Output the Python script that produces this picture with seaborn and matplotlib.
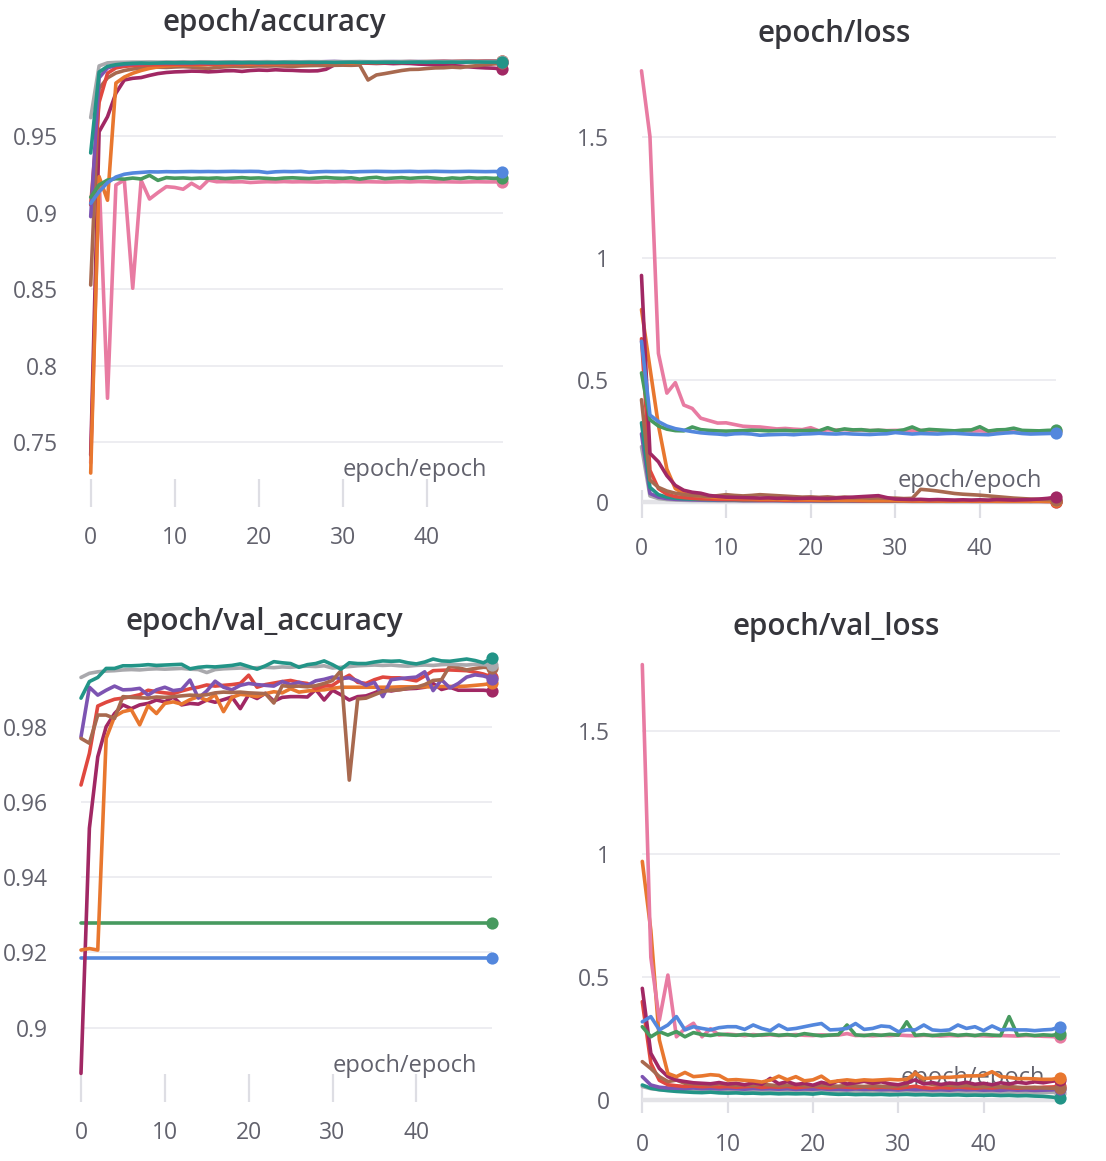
import matplotlib
matplotlib.use("Agg")
import matplotlib.pyplot as plt
import pandas as pd
import seaborn as sns

epochs = list(range(50))
x_ticks = [0, 10, 20, 30, 40]

# ---------------- epoch/accuracy ----------------
acc_gray = [0.9620, 0.9958, 0.9978, 0.9981, 0.9982, 0.9983, 0.9983, 0.9984, 0.9983, 0.9984,
            0.9984, 0.9985, 0.9984, 0.9985, 0.9985, 0.9984, 0.9985, 0.9985, 0.9984, 0.9985,
            0.9985, 0.9986, 0.9985, 0.9985, 0.9986, 0.9985, 0.9986, 0.9986, 0.9985, 0.9986,
            0.9986, 0.9986, 0.9987, 0.9986, 0.9986, 0.9987, 0.9986, 0.9987, 0.9987, 0.9986,
            0.9987, 0.9987, 0.9986, 0.9987, 0.9987, 0.9988, 0.9987, 0.9987, 0.9988, 0.9987]
acc_teal = [0.9389, 0.9918, 0.9955, 0.9966, 0.9972, 0.9975, 0.9977, 0.9975, 0.9977, 0.9979,
            0.9978, 0.9979, 0.9978, 0.9980, 0.9979, 0.9978, 0.9979, 0.9980, 0.9979, 0.9980,
            0.9979, 0.9980, 0.9979, 0.9981, 0.9980, 0.9980, 0.9981, 0.9980, 0.9981, 0.9980,
            0.9981, 0.9982, 0.9981, 0.9982, 0.9981, 0.9982, 0.9982, 0.9981, 0.9982, 0.9983,
            0.9982, 0.9983, 0.9982, 0.9983, 0.9982, 0.9983, 0.9984, 0.9983, 0.9983, 0.9982]
acc_purple = [0.8973, 0.9880, 0.9945, 0.9962, 0.9968, 0.9972, 0.9974, 0.9975, 0.9976, 0.9977,
              0.9978, 0.9977, 0.9978, 0.9979, 0.9978, 0.9979, 0.9980, 0.9979, 0.9980, 0.9981,
              0.9980, 0.9981, 0.9982, 0.9981, 0.9982, 0.9983, 0.9982, 0.9984, 0.9986, 0.9987,
              0.9985, 0.9984, 0.9985, 0.9984, 0.9985, 0.9985, 0.9986, 0.9985, 0.9986, 0.9986,
              0.9985, 0.9986, 0.9987, 0.9986, 0.9986, 0.9987, 0.9986, 0.9987, 0.9987, 0.9986]
acc_red = [0.9050, 0.9720, 0.9910, 0.9945, 0.9955, 0.9960, 0.9963, 0.9965, 0.9966, 0.9967,
           0.9968, 0.9967, 0.9969, 0.9970, 0.9969, 0.9970, 0.9971, 0.9970, 0.9972, 0.9973,
           0.9972, 0.9974, 0.9973, 0.9975, 0.9976, 0.9975, 0.9977, 0.9976, 0.9978, 0.9979,
           0.9980, 0.9981, 0.9982, 0.9981, 0.9983, 0.9984, 0.9983, 0.9985, 0.9986, 0.9985,
           0.9986, 0.9987, 0.9988, 0.9987, 0.9988, 0.9989, 0.9988, 0.9989, 0.9990, 0.9989]
acc_orange = [0.7297, 0.9234, 0.9080, 0.9846, 0.9885, 0.9910, 0.9928, 0.9942, 0.9952, 0.9958,
              0.9962, 0.9964, 0.9966, 0.9965, 0.9967, 0.9968, 0.9967, 0.9969, 0.9970, 0.9969,
              0.9971, 0.9972, 0.9971, 0.9973, 0.9974, 0.9973, 0.9975, 0.9976, 0.9975, 0.9977,
              0.9978, 0.9977, 0.9979, 0.9980, 0.9979, 0.9981, 0.9982, 0.9981, 0.9983, 0.9984,
              0.9983, 0.9985, 0.9986, 0.9985, 0.9987, 0.9988, 0.9987, 0.9989, 0.9990, 0.9990]
acc_brown = [0.8526, 0.9810, 0.9880, 0.9912, 0.9928, 0.9938, 0.9944, 0.9948, 0.9950, 0.9948,
             0.9951, 0.9953, 0.9950, 0.9945, 0.9942, 0.9948, 0.9952, 0.9955, 0.9953, 0.9956,
             0.9958, 0.9957, 0.9959, 0.9957, 0.9955, 0.9958, 0.9960, 0.9961, 0.9960, 0.9962,
             0.9963, 0.9962, 0.9964, 0.9866, 0.9899, 0.9908, 0.9918, 0.9928, 0.9935, 0.9936,
             0.9941, 0.9945, 0.9946, 0.9950, 0.9947, 0.9955, 0.9960, 0.9966, 0.9971, 0.9975]
acc_crimson = [0.7415, 0.9528, 0.9626, 0.9780, 0.9866, 0.9877, 0.9882, 0.9896, 0.9908, 0.9915,
               0.9919, 0.9921, 0.9924, 0.9923, 0.9919, 0.9922, 0.9926, 0.9927, 0.9922, 0.9928,
               0.9931, 0.9929, 0.9933, 0.9930, 0.9929, 0.9926, 0.9925, 0.9926, 0.9936, 0.9965,
               0.9972, 0.9975, 0.9977, 0.9976, 0.9974, 0.9976, 0.9973, 0.9975, 0.9974, 0.9970,
               0.9968, 0.9965, 0.9962, 0.9960, 0.9957, 0.9952, 0.9948, 0.9945, 0.9943, 0.9938]
acc_pink = [0.7363, 0.9234, 0.7786, 0.9180, 0.9212, 0.8505, 0.9210, 0.9088, 0.9130, 0.9169,
            0.9164, 0.9152, 0.9191, 0.9158, 0.9212, 0.9201, 0.9202, 0.9200, 0.9201, 0.9196,
            0.9199, 0.9201, 0.9200, 0.9202, 0.9200, 0.9201, 0.9200, 0.9199, 0.9201, 0.9200,
            0.9202, 0.9201, 0.9200, 0.9201, 0.9200, 0.9199, 0.9200, 0.9201, 0.9200, 0.9202,
            0.9201, 0.9200, 0.9201, 0.9200, 0.9199, 0.9200, 0.9201, 0.9200, 0.9200, 0.9200]
acc_blue = [0.9060, 0.9136, 0.9195, 0.9232, 0.9250, 0.9258, 0.9262, 0.9266, 0.9265, 0.9267,
            0.9266, 0.9267, 0.9268, 0.9267, 0.9268, 0.9267, 0.9268, 0.9269, 0.9268, 0.9269,
            0.9268, 0.9261, 0.9266, 0.9268, 0.9267, 0.9269, 0.9263, 0.9266, 0.9268, 0.9267,
            0.9268, 0.9265, 0.9267, 0.9268, 0.9269, 0.9268, 0.9267, 0.9268, 0.9269, 0.9267,
            0.9268, 0.9269, 0.9268, 0.9267, 0.9268, 0.9269, 0.9268, 0.9267, 0.9268, 0.9267]
acc_green = [0.9100, 0.9180, 0.9212, 0.9221, 0.9218, 0.9225, 0.9219, 0.9243, 0.9210, 0.9228,
             0.9224, 0.9226, 0.9222, 0.9225, 0.9223, 0.9226, 0.9222, 0.9225, 0.9228, 0.9224,
             0.9226, 0.9223, 0.9220, 0.9225, 0.9227, 0.9224, 0.9222, 0.9226, 0.9229, 0.9225,
             0.9223, 0.9227, 0.9218, 0.9226, 0.9230, 0.9221, 0.9225, 0.9228, 0.9223, 0.9227,
             0.9229, 0.9224, 0.9219, 0.9226, 0.9222, 0.9228, 0.9224, 0.9226, 0.9223, 0.9225]

# ---------------- epoch/loss ----------------
loss_pink = [1.770, 1.500, 0.610, 0.447, 0.490, 0.398, 0.384, 0.344, 0.334, 0.324,
             0.325, 0.318, 0.311, 0.309, 0.308, 0.304, 0.300, 0.302, 0.299, 0.297,
             0.305, 0.292, 0.296, 0.295, 0.297, 0.294, 0.295, 0.293, 0.294, 0.293,
             0.294, 0.293, 0.292, 0.294, 0.292, 0.293, 0.291, 0.292, 0.293, 0.291,
             0.292, 0.290, 0.291, 0.290, 0.292, 0.290, 0.291, 0.290, 0.289, 0.290]
loss_blue = [0.660, 0.357, 0.330, 0.312, 0.301, 0.295, 0.289, 0.284, 0.281, 0.279,
             0.276, 0.280, 0.281, 0.279, 0.274, 0.276, 0.277, 0.278, 0.276, 0.279,
             0.280, 0.282, 0.280, 0.279, 0.281, 0.279, 0.278, 0.277, 0.279, 0.280,
             0.285, 0.282, 0.279, 0.281, 0.280, 0.279, 0.281, 0.282, 0.280, 0.278,
             0.277, 0.276, 0.280, 0.283, 0.285, 0.281, 0.279, 0.280, 0.281, 0.282]
loss_green = [0.530, 0.338, 0.312, 0.299, 0.293, 0.292, 0.308, 0.297, 0.294, 0.292,
              0.291, 0.292, 0.293, 0.295, 0.294, 0.292, 0.293, 0.294, 0.292, 0.293,
              0.294, 0.292, 0.305, 0.293, 0.300, 0.296, 0.297, 0.293, 0.295, 0.292,
              0.291, 0.296, 0.308, 0.293, 0.298, 0.296, 0.294, 0.292, 0.295, 0.296,
              0.309, 0.291, 0.296, 0.297, 0.303, 0.294, 0.293, 0.292, 0.294, 0.295]
loss_crimson = [0.930, 0.200, 0.165, 0.108, 0.068, 0.048, 0.040, 0.036, 0.027, 0.023,
                0.020, 0.019, 0.018, 0.017, 0.016, 0.017, 0.015, 0.016, 0.014, 0.015,
                0.016, 0.015, 0.014, 0.016, 0.018, 0.020, 0.022, 0.024, 0.026, 0.018,
                0.012, 0.011, 0.010, 0.011, 0.009, 0.010, 0.009, 0.008, 0.009, 0.008,
                0.009, 0.008, 0.010, 0.009, 0.008, 0.009, 0.010, 0.012, 0.015, 0.020]
loss_orange = [0.790, 0.550, 0.315, 0.135, 0.055, 0.035, 0.028, 0.024, 0.020, 0.018,
               0.016, 0.015, 0.014, 0.013, 0.012, 0.012, 0.011, 0.010, 0.010, 0.009,
               0.009, 0.008, 0.008, 0.008, 0.007, 0.007, 0.007, 0.006, 0.006, 0.006,
               0.006, 0.005, 0.005, 0.005, 0.005, 0.005, 0.004, 0.004, 0.004, 0.004,
               0.004, 0.004, 0.003, 0.003, 0.003, 0.003, 0.003, 0.003, 0.003, 0.003]
loss_red = [0.670, 0.130, 0.055, 0.032, 0.022, 0.018, 0.015, 0.013, 0.012, 0.011,
            0.010, 0.010, 0.009, 0.009, 0.008, 0.008, 0.008, 0.007, 0.007, 0.007,
            0.007, 0.006, 0.006, 0.006, 0.006, 0.006, 0.005, 0.005, 0.005, 0.005,
            0.005, 0.005, 0.004, 0.004, 0.004, 0.004, 0.004, 0.004, 0.004, 0.003,
            0.003, 0.003, 0.003, 0.003, 0.003, 0.003, 0.003, 0.003, 0.002, 0.002]
loss_brown = [0.420, 0.090, 0.060, 0.045, 0.036, 0.030, 0.027, 0.025, 0.022, 0.026,
              0.030, 0.027, 0.025, 0.027, 0.030, 0.028, 0.026, 0.024, 0.022, 0.020,
              0.021, 0.019, 0.021, 0.018, 0.020, 0.017, 0.018, 0.016, 0.017, 0.015,
              0.016, 0.014, 0.015, 0.052, 0.049, 0.045, 0.040, 0.035, 0.032, 0.030,
              0.028, 0.025, 0.022, 0.019, 0.016, 0.014, 0.012, 0.011, 0.010, 0.009]
loss_teal = [0.325, 0.060, 0.030, 0.020, 0.016, 0.013, 0.012, 0.011, 0.010, 0.010,
             0.009, 0.009, 0.008, 0.008, 0.008, 0.008, 0.007, 0.007, 0.007, 0.007,
             0.007, 0.006, 0.006, 0.006, 0.006, 0.006, 0.006, 0.005, 0.005, 0.005,
             0.005, 0.005, 0.005, 0.005, 0.005, 0.004, 0.004, 0.004, 0.004, 0.004,
             0.004, 0.004, 0.004, 0.004, 0.004, 0.004, 0.003, 0.004, 0.004, 0.004]
loss_gray = [0.227, 0.025, 0.014, 0.010, 0.008, 0.007, 0.006, 0.006, 0.005, 0.005,
             0.005, 0.005, 0.004, 0.004, 0.004, 0.004, 0.004, 0.004, 0.003, 0.003,
             0.003, 0.003, 0.003, 0.003, 0.003, 0.003, 0.003, 0.003, 0.003, 0.003,
             0.003, 0.003, 0.002, 0.002, 0.002, 0.002, 0.002, 0.002, 0.002, 0.002,
             0.002, 0.002, 0.002, 0.002, 0.002, 0.002, 0.002, 0.002, 0.002, 0.002]
loss_purple = [0.280, 0.035, 0.020, 0.014, 0.011, 0.010, 0.009, 0.008, 0.008, 0.007,
               0.007, 0.007, 0.006, 0.006, 0.006, 0.006, 0.006, 0.005, 0.005, 0.005,
               0.005, 0.005, 0.005, 0.005, 0.005, 0.004, 0.004, 0.004, 0.004, 0.004,
               0.004, 0.004, 0.004, 0.004, 0.004, 0.004, 0.003, 0.003, 0.003, 0.003,
               0.003, 0.003, 0.003, 0.003, 0.003, 0.003, 0.003, 0.003, 0.003, 0.003]

# ---------------- epoch/val_accuracy ----------------
va_teal = [0.9876, 0.9920, 0.9931, 0.9955, 0.9955, 0.9962, 0.9962, 0.9963, 0.9965, 0.9963,
           0.9964, 0.9965, 0.9966, 0.9954, 0.9958, 0.9960, 0.9959, 0.9961, 0.9963, 0.9967,
           0.9960, 0.9953, 0.9962, 0.9973, 0.9970, 0.9968, 0.9958, 0.9965, 0.9968, 0.9975,
           0.9965, 0.9953, 0.9970, 0.9968, 0.9968, 0.9972, 0.9975, 0.9974, 0.9975, 0.9970,
           0.9967, 0.9972, 0.9980, 0.9975, 0.9974, 0.9977, 0.9980, 0.9976, 0.9970, 0.9982]
va_gray = [0.9931, 0.9942, 0.9946, 0.9948, 0.9949, 0.9951, 0.9952, 0.9951, 0.9953, 0.9954,
           0.9953, 0.9954, 0.9955, 0.9953, 0.9952, 0.9944, 0.9952, 0.9954, 0.9955, 0.9956,
           0.9955, 0.9957, 0.9958, 0.9957, 0.9959, 0.9958, 0.9960, 0.9961, 0.9960, 0.9962,
           0.9956, 0.9958, 0.9960, 0.9962, 0.9963, 0.9964, 0.9963, 0.9964, 0.9962, 0.9961,
           0.9963, 0.9964, 0.9963, 0.9965, 0.9966, 0.9965, 0.9964, 0.9966, 0.9965, 0.9963]
va_purple = [0.9773, 0.9905, 0.9884, 0.9897, 0.9908, 0.9898, 0.9899, 0.9902, 0.9884, 0.9898,
             0.9905, 0.9896, 0.9899, 0.9924, 0.9876, 0.9895, 0.9921, 0.9905, 0.9898, 0.9910,
             0.9915, 0.9912, 0.9910, 0.9908, 0.9920, 0.9912, 0.9918, 0.9910, 0.9922, 0.9926,
             0.9932, 0.9928, 0.9930, 0.9922, 0.9910, 0.9918, 0.9880, 0.9925, 0.9928, 0.9930,
             0.9932, 0.9946, 0.9896, 0.9925, 0.9903, 0.9915, 0.9932, 0.9938, 0.9935, 0.9928]
va_red = [0.9645, 0.9729, 0.9855, 0.9865, 0.9873, 0.9876, 0.9880, 0.9885, 0.9897, 0.9893,
          0.9890, 0.9888, 0.9895, 0.9901, 0.9905, 0.9911, 0.9908, 0.9910, 0.9912, 0.9915,
          0.9937, 0.9905, 0.9912, 0.9916, 0.9920, 0.9923, 0.9918, 0.9915, 0.9901, 0.9908,
          0.9910, 0.9925, 0.9937, 0.9918, 0.9915, 0.9925, 0.9932, 0.9930, 0.9930, 0.9926,
          0.9922, 0.9935, 0.9949, 0.9950, 0.9951, 0.9950, 0.9949, 0.9945, 0.9940, 0.9932]
va_orange = [0.9206, 0.9210, 0.9206, 0.9769, 0.9827, 0.9840, 0.9845, 0.9805, 0.9856, 0.9835,
             0.9862, 0.9866, 0.9860, 0.9872, 0.9880, 0.9870, 0.9885, 0.9840, 0.9878, 0.9886,
             0.9884, 0.9880, 0.9888, 0.9893, 0.9890, 0.9901, 0.9892, 0.9895, 0.9897, 0.9898,
             0.9902, 0.9905, 0.9905, 0.9905, 0.9905, 0.9905, 0.9905, 0.9905, 0.9906, 0.9906,
             0.9906, 0.9906, 0.9906, 0.9907, 0.9907, 0.9907, 0.9908, 0.9910, 0.9912, 0.9915]
va_brown = [0.9769, 0.9756, 0.9831, 0.9831, 0.9822, 0.9880, 0.9878, 0.9877, 0.9876, 0.9879,
            0.9878, 0.9880, 0.9882, 0.9884, 0.9883, 0.9885, 0.9890, 0.9892, 0.9891, 0.9892,
            0.9890, 0.9889, 0.9888, 0.9863, 0.9909, 0.9907, 0.9908, 0.9906, 0.9909, 0.9915,
            0.9923, 0.9949, 0.9658, 0.9874, 0.9876, 0.9885, 0.9894, 0.9897, 0.9898, 0.9902,
            0.9905, 0.9912, 0.9923, 0.9925, 0.9962, 0.9957, 0.9951, 0.9955, 0.9958, 0.9957]
va_crimson = [0.8878, 0.9530, 0.9720, 0.9800, 0.9835, 0.9858, 0.9848, 0.9858, 0.9862, 0.9871,
              0.9866, 0.9879, 0.9858, 0.9862, 0.9860, 0.9871, 0.9865, 0.9872, 0.9879, 0.9848,
              0.9885, 0.9875, 0.9889, 0.9868, 0.9878, 0.9880, 0.9880, 0.9879, 0.9899, 0.9871,
              0.9897, 0.9885, 0.9871, 0.9880, 0.9882, 0.9890, 0.9899, 0.9895, 0.9899, 0.9901,
              0.9902, 0.9905, 0.9915, 0.9899, 0.9905, 0.9897, 0.9897, 0.9897, 0.9897, 0.9895]
va_green = [0.9277, 0.9277, 0.9277, 0.9277, 0.9277, 0.9277, 0.9277, 0.9277, 0.9277, 0.9277,
            0.9277, 0.9277, 0.9277, 0.9277, 0.9277, 0.9277, 0.9277, 0.9277, 0.9277, 0.9277,
            0.9277, 0.9277, 0.9277, 0.9277, 0.9277, 0.9277, 0.9277, 0.9277, 0.9277, 0.9277,
            0.9277, 0.9277, 0.9277, 0.9277, 0.9277, 0.9277, 0.9277, 0.9277, 0.9277, 0.9277,
            0.9277, 0.9277, 0.9277, 0.9277, 0.9277, 0.9277, 0.9277, 0.9277, 0.9277, 0.9277]
va_blue = [0.9184, 0.9184, 0.9184, 0.9184, 0.9184, 0.9184, 0.9184, 0.9184, 0.9184, 0.9184,
           0.9184, 0.9184, 0.9184, 0.9184, 0.9184, 0.9184, 0.9184, 0.9184, 0.9184, 0.9184,
           0.9184, 0.9184, 0.9184, 0.9184, 0.9184, 0.9184, 0.9184, 0.9184, 0.9184, 0.9184,
           0.9184, 0.9184, 0.9184, 0.9184, 0.9184, 0.9184, 0.9184, 0.9184, 0.9184, 0.9184,
           0.9184, 0.9184, 0.9184, 0.9184, 0.9184, 0.9184, 0.9184, 0.9184, 0.9184, 0.9184]

# ---------------- epoch/val_loss ----------------
vl_pink = [1.770, 0.580, 0.325, 0.508, 0.257, 0.290, 0.312, 0.257, 0.290, 0.264,
           0.268, 0.265, 0.262, 0.266, 0.263, 0.265, 0.262, 0.264, 0.266, 0.263,
           0.262, 0.265, 0.263, 0.264, 0.270, 0.262, 0.263, 0.261, 0.263, 0.262,
           0.264, 0.262, 0.261, 0.263, 0.262, 0.260, 0.262, 0.261, 0.263, 0.262,
           0.261, 0.260, 0.262, 0.261, 0.260, 0.262, 0.261, 0.259, 0.258, 0.255]
vl_orange = [0.970, 0.690, 0.244, 0.108, 0.095, 0.112, 0.095, 0.098, 0.103, 0.100,
             0.081, 0.083, 0.080, 0.078, 0.073, 0.081, 0.097, 0.082, 0.095, 0.078,
             0.082, 0.097, 0.073, 0.078, 0.082, 0.078, 0.082, 0.080, 0.082, 0.084,
             0.082, 0.084, 0.108, 0.087, 0.090, 0.092, 0.092, 0.095, 0.098, 0.098,
             0.100, 0.115, 0.095, 0.092, 0.087, 0.087, 0.086, 0.084, 0.084, 0.090]
vl_crimson = [0.454, 0.190, 0.128, 0.095, 0.081, 0.075, 0.070, 0.068, 0.066, 0.071,
              0.065, 0.068, 0.062, 0.070, 0.064, 0.088, 0.066, 0.075, 0.063, 0.068,
              0.060, 0.072, 0.064, 0.078, 0.065, 0.070, 0.076, 0.068, 0.074, 0.066,
              0.062, 0.070, 0.082, 0.065, 0.071, 0.063, 0.069, 0.066, 0.072, 0.064,
              0.068, 0.062, 0.070, 0.065, 0.072, 0.068, 0.074, 0.070, 0.076, 0.081]
vl_red = [0.400, 0.150, 0.080, 0.062, 0.058, 0.055, 0.057, 0.054, 0.056, 0.053,
          0.055, 0.052, 0.054, 0.056, 0.051, 0.054, 0.052, 0.055, 0.050, 0.053,
          0.056, 0.051, 0.050, 0.054, 0.052, 0.050, 0.053, 0.049, 0.052, 0.051,
          0.048, 0.052, 0.056, 0.050, 0.048, 0.051, 0.049, 0.053, 0.050, 0.048,
          0.051, 0.049, 0.052, 0.050, 0.048, 0.051, 0.049, 0.052, 0.053, 0.055]
vl_brown = [0.156, 0.128, 0.095, 0.075, 0.081, 0.068, 0.066, 0.064, 0.062, 0.066,
            0.063, 0.060, 0.062, 0.059, 0.064, 0.061, 0.058, 0.060, 0.063, 0.059,
            0.057, 0.061, 0.058, 0.056, 0.060, 0.057, 0.055, 0.058, 0.056, 0.054,
            0.057, 0.060, 0.115, 0.068, 0.064, 0.062, 0.060, 0.057, 0.059, 0.056,
            0.054, 0.057, 0.053, 0.055, 0.052, 0.050, 0.052, 0.049, 0.048, 0.047]
vl_blue = [0.318, 0.339, 0.285, 0.305, 0.339, 0.285, 0.298, 0.291, 0.285, 0.294,
           0.298, 0.298, 0.287, 0.305, 0.291, 0.282, 0.305, 0.287, 0.291, 0.298,
           0.305, 0.311, 0.285, 0.287, 0.291, 0.311, 0.287, 0.291, 0.301, 0.298,
           0.278, 0.285, 0.285, 0.305, 0.285, 0.282, 0.285, 0.305, 0.291, 0.298,
           0.282, 0.301, 0.285, 0.287, 0.285, 0.285, 0.282, 0.285, 0.287, 0.298]
vl_green = [0.298, 0.257, 0.278, 0.264, 0.278, 0.257, 0.274, 0.266, 0.262, 0.268,
            0.265, 0.263, 0.267, 0.262, 0.265, 0.268, 0.263, 0.266, 0.262, 0.270,
            0.265, 0.261, 0.264, 0.266, 0.305, 0.265, 0.262, 0.266, 0.263, 0.267,
            0.264, 0.318, 0.263, 0.266, 0.262, 0.265, 0.268, 0.263, 0.266, 0.262,
            0.267, 0.264, 0.262, 0.339, 0.263, 0.266, 0.262, 0.265, 0.263, 0.268]
vl_purple = [0.095, 0.061, 0.052, 0.049, 0.048, 0.047, 0.049, 0.046, 0.048, 0.045,
             0.047, 0.046, 0.044, 0.047, 0.045, 0.046, 0.044, 0.046, 0.043, 0.045,
             0.044, 0.046, 0.043, 0.044, 0.042, 0.045, 0.043, 0.044, 0.042, 0.043,
             0.041, 0.044, 0.042, 0.043, 0.041, 0.042, 0.040, 0.043, 0.041, 0.042,
             0.040, 0.041, 0.039, 0.042, 0.040, 0.041, 0.039, 0.040, 0.041, 0.045]
vl_teal = [0.061, 0.048, 0.042, 0.038, 0.035, 0.033, 0.031, 0.030, 0.032, 0.029,
           0.028, 0.029, 0.027, 0.028, 0.026, 0.027, 0.025, 0.026, 0.025, 0.026,
           0.024, 0.028, 0.025, 0.023, 0.024, 0.022, 0.023, 0.022, 0.023, 0.021,
           0.022, 0.023, 0.021, 0.022, 0.020, 0.021, 0.020, 0.021, 0.019, 0.020,
           0.019, 0.020, 0.018, 0.019, 0.017, 0.018, 0.016, 0.015, 0.012, 0.008]
vl_gray = [0.055, 0.046, 0.042, 0.040, 0.039, 0.038, 0.039, 0.037, 0.038, 0.036,
           0.037, 0.036, 0.035, 0.037, 0.035, 0.036, 0.034, 0.035, 0.036, 0.034,
           0.035, 0.033, 0.034, 0.035, 0.033, 0.034, 0.032, 0.033, 0.034, 0.032,
           0.033, 0.031, 0.032, 0.033, 0.031, 0.032, 0.030, 0.031, 0.032, 0.030,
           0.031, 0.030, 0.031, 0.029, 0.030, 0.031, 0.029, 0.030, 0.031, 0.030]

COLORS = {
    "gray": "#a9a9ad", "teal": "#229487", "purple": "#7d54b2", "red": "#e0483f",
    "orange": "#e8772f", "brown": "#a8694f", "crimson": "#a12864", "pink": "#e87ba2",
    "blue": "#5387dd", "green": "#479a5f",
}

W, H = 1106, 1161
TICK_C = "#62626d"
GRID_C = "#ececf0"

sns.set_theme(style="white")
plt.rcParams["font.family"] = ["Open Sans", "DejaVu Sans"]

fig = plt.figure(figsize=(W / 100, H / 100), dpi=100)

panels = [
    dict(title="epoch/accuracy",
         series={"pink": acc_pink, "crimson": acc_crimson, "brown": acc_brown, "orange": acc_orange,
                 "red": acc_red, "purple": acc_purple, "gray": acc_gray, "green": acc_green,
                 "blue": acc_blue, "teal": acc_teal},
         box=(90.7, 502.5, 55, 507), ylim=(0.70752, 1.00294),
         yticks=[0.75, 0.8, 0.85, 0.9, 0.95], ylabels=["0.75", "0.8", "0.85", "0.9", "0.95"],
         title_xy=(274, 31), xlab_xy=(487, 470), baseline=False),
    dict(title="epoch/loss",
         series={"gray": loss_gray, "purple": loss_purple, "teal": loss_teal, "red": loss_red,
                 "orange": loss_orange, "brown": loss_brown, "crimson": loss_crimson,
                 "pink": loss_pink, "green": loss_green, "blue": loss_blue},
         box=(641.5, 1056, 60, 518), ylim=(-0.0657, 1.8144),
         yticks=[0, 0.5, 1, 1.5], ylabels=["0", "0.5", "1", "1.5"],
         title_xy=(834, 42), xlab_xy=(1042, 481), baseline=True),
    dict(title="epoch/val_accuracy",
         series={"green": va_green, "blue": va_blue, "crimson": va_crimson, "orange": va_orange,
                 "red": va_red, "purple": va_purple, "brown": va_brown, "gray": va_gray,
                 "teal": va_teal},
         box=(81, 491.8, 640, 1101.7), ylim=(0.88027, 1.00306),
         yticks=[0.9, 0.92, 0.94, 0.96, 0.98], ylabels=["0.9", "0.92", "0.94", "0.96", "0.98"],
         title_xy=(264, 630), xlab_xy=(477, 1066), baseline=False),
    dict(title="epoch/val_loss",
         series={"gray": vl_gray, "teal": vl_teal, "purple": vl_purple, "red": vl_red,
                 "brown": vl_brown, "crimson": vl_crimson, "orange": vl_orange,
                 "pink": vl_pink, "green": vl_green, "blue": vl_blue},
         box=(642.3, 1060.3, 655, 1113.3), ylim=(-0.054, 1.809),
         yticks=[0, 0.5, 1, 1.5], ylabels=["0", "0.5", "1", "1.5"],
         title_xy=(836, 635), xlab_xy=(1045, 1078), baseline=True),
]

for p in panels:
    left, right, top, bottom = p["box"]
    ax = fig.add_axes([left / W, 1 - bottom / H, (right - left) / W, (bottom - top) / H])
    rows = []
    for run, vals in p["series"].items():
        assert len(vals) == len(epochs), run
        rows.extend({"epoch": e, "value": v, "run": run} for e, v in zip(epochs, vals))
    df = pd.DataFrame(rows)
    order = list(p["series"].keys())
    if p["baseline"]:
        ax.axhline(0, color="#e3e3e7", lw=3.2, zorder=1.2)
    sns.lineplot(data=df, x="epoch", y="value", hue="run", hue_order=order,
                 palette=COLORS, legend=False, ax=ax, estimator=None, errorbar=None,
                 sort=False, linewidth=2.6, marker="o", markevery=[len(epochs) - 1],
                 markersize=8.8, markeredgewidth=0, clip_on=False)
    ax.set_xlim(0, 49)
    ax.set_ylim(*p["ylim"])
    ax.set_xticks(x_ticks)
    ax.set_xticklabels([str(t) for t in x_ticks])
    ax.set_yticks(p["yticks"])
    ax.set_yticklabels(p["ylabels"])
    ax.set_xlabel("")
    ax.set_ylabel("")
    for s in ax.spines.values():
        s.set_visible(False)
    ax.grid(False)
    ax.yaxis.grid(True, color=GRID_C, lw=1.3)
    ax.set_axisbelow(True)
    ax.tick_params(axis="x", which="major", bottom=True, top=False, direction="in",
                   length=20, width=1.6, color="#dedee4",
                   pad=14, labelsize=16.5, labelcolor=TICK_C)
    ax.tick_params(axis="y", left=False, length=0, pad=23.5, labelsize=16.5, labelcolor=TICK_C)
    tx, ty = p["xlab_xy"]
    ax.text(tx / W, 1 - ty / H, "epoch/epoch", transform=fig.transFigure, ha="right",
            va="center", fontsize=17, color=TICK_C, zorder=1.5)
    hx, hy = p["title_xy"]
    fig.text(hx / W, 1 - hy / H, p["title"], ha="center", va="baseline", fontsize=21.3,
             fontweight="semibold", color="#36363c")

fig.savefig("out.png", dpi=100, facecolor="white")
